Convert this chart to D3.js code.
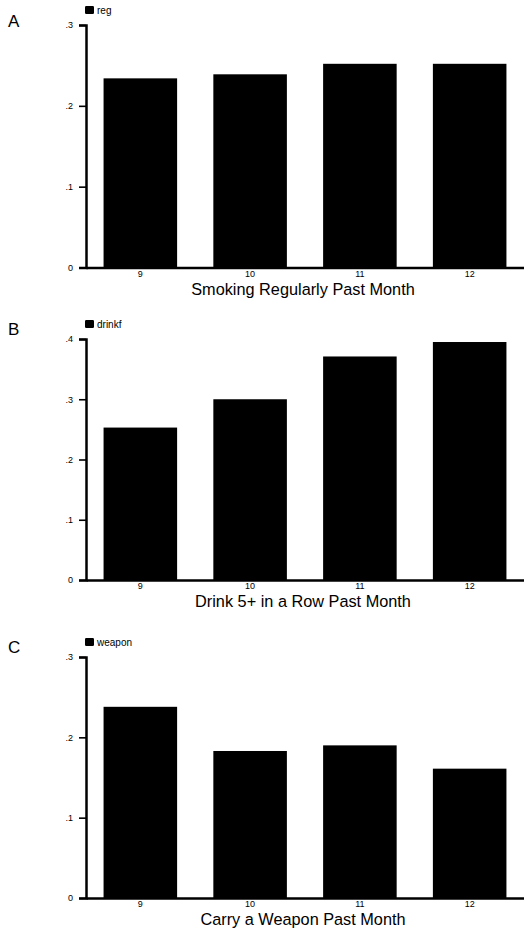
<!DOCTYPE html>
<html>
<head>
<meta charset="utf-8">
<script src="https://cdn.jsdelivr.net/npm/d3@7"></script>
<style>
  html, body { margin: 0; padding: 0; background: #fff; }
  svg { display: block; font-family: "Liberation Sans", Arial, Helvetica, sans-serif; }
</style>
</head>
<body>
<svg id="chart" width="524" height="931"></svg>
<script>
// ---- Data ----
const grades = ["9", "10", "11", "12"];
const smokingRegular = [0.234, 0.239, 0.252, 0.252];
const drinkFivePlus = [0.253, 0.300, 0.371, 0.395];
const carryWeapon = [0.238, 0.183, 0.190, 0.161];
const ticksA = [0, 0.1, 0.2, 0.3];
const ticksB = [0, 0.1, 0.2, 0.3, 0.4];
const ticksC = [0, 0.1, 0.2, 0.3];
const panelLetters = ["A", "B", "C"];
const legendKeys = ["reg", "drinkf", "weapon"];
const xTitles = ["Smoking Regularly Past Month", "Drink 5+ in a Row Past Month", "Carry a Weapon Past Month"];

// ---- Layout ----
const panels = [
  { letter: panelLetters[0], key: legendKeys[0], title: xTitles[0], values: smokingRegular, ticks: ticksA, yMax: 0.3, top: 25, base: 267.5, letterY: 27 },
  { letter: panelLetters[1], key: legendKeys[1], title: xTitles[1], values: drinkFivePlus, ticks: ticksB, yMax: 0.4, top: 339, base: 580, letterY: 335 },
  { letter: panelLetters[2], key: legendKeys[2], title: xTitles[2], values: carryWeapon, ticks: ticksC, yMax: 0.3, top: 657, base: 898, letterY: 653 }
];

const svg = d3.select("#chart");
const fmt = d => d === 0 ? "0" : d3.format(".1f")(d).replace(/^0/, "");

panels.forEach(p => {
  const g = svg.append("g");
  const x = d3.scaleBand().domain(grades).range([86, 524]).paddingInner(0.33).paddingOuter(0.16);
  const y = d3.scaleLinear().domain([0, p.yMax]).range([p.base, p.top]);

  // bars
  g.selectAll("rect.bar")
    .data(grades.map((gr, i) => ({ grade: gr, value: p.values[i] })))
    .join("rect")
    .attr("class", "bar")
    .attr("x", d => x(d.grade))
    .attr("width", x.bandwidth())
    .attr("y", d => y(d.value))
    .attr("height", d => y(0) - y(d.value))
    .attr("fill", "#000");

  // x axis
  const xAxis = g.append("g")
    .attr("transform", `translate(0,${p.base})`)
    .call(d3.axisBottom(x).tickSize(0).tickPadding(3));
  xAxis.select(".domain").attr("stroke", "#000").attr("stroke-width", 2.5);
  xAxis.selectAll("text").attr("font-size", 9).attr("fill", "#000").attr("font-family", "Liberation Sans, Arial, sans-serif");

  // y axis
  const yAxis = g.append("g")
    .attr("transform", `translate(86,0)`)
    .call(d3.axisLeft(y).tickValues(p.ticks).tickFormat(fmt).tickSize(7).tickPadding(6));
  yAxis.select(".domain").attr("stroke", "#000").attr("stroke-width", 2.5);
  yAxis.selectAll(".tick line").attr("stroke", "#000").attr("stroke-width", 1.6);
  yAxis.selectAll("text").attr("font-size", 9).attr("fill", "#000").attr("font-family", "Liberation Sans, Arial, sans-serif");

  // legend
  const ly = p.top - 15;
  g.append("rect")
    .attr("x", 85).attr("y", ly - 4).attr("width", 9).attr("height", 8)
    .attr("rx", 1.2).attr("fill", "#000");
  g.append("text")
    .attr("x", 97).attr("y", ly + 3.5)
    .attr("font-size", 10).attr("fill", "#000")
    .text(p.key);

  // panel letter
  g.append("text")
    .attr("x", 8).attr("y", p.letterY)
    .attr("font-size", 17).attr("fill", "#000")
    .text(p.letter);

  // x title
  g.append("text")
    .attr("x", 303).attr("y", p.base + 27)
    .attr("text-anchor", "middle")
    .attr("font-size", 16.3).attr("fill", "#000")
    .text(p.title);
});
</script>
</body>
</html>
